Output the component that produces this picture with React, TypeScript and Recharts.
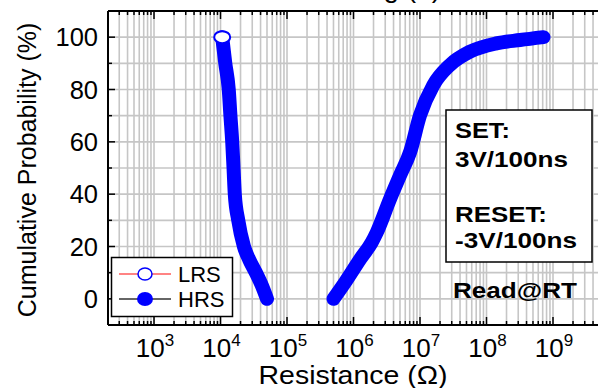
import React from 'react';
import { ComposedChart, Line, XAxis, YAxis, CartesianGrid } from 'recharts';

// LRS cumulative distribution (resistance in ohm, probability in %), ordered by resistance
const lrsRes = [1.06e4, 1.18e4, 1.33e4, 1.41e4, 1.5e4, 1.57e4, 1.64e4, 1.85e4, 2.25e4, 2.7e4, 3.4e4, 4.2e4, 5.0e4];
const lrsProb = [100, 90, 80, 70, 60, 50, 40, 30, 20, 15, 10, 5, 0];

// HRS cumulative distribution
const hrsRes = [5.0e5, 7.5e5, 1.26e6, 1.88e6, 2.24e6, 3.55e6, 5.0e6, 7.1e6, 1.0e7, 1.58e7, 2.8e7, 5.6e7, 1.4e8, 3.2e8, 7.2e8];
const hrsProb = [0, 6.4, 15.2, 21.6, 25.4, 38.2, 47.1, 56.1, 70.1, 81.6, 89.3, 94.4, 97.6, 98.9, 100];

const majorDecades = [3, 4, 5, 6, 7, 8, 9];
const gridDecades = [2, 3, 4, 5, 6, 7, 8, 9];
const decadeSteps = [1, 2, 3, 4, 5, 6, 7, 8, 9];
const yTicks = [-10, 0, 10, 20, 30, 40, 50, 60, 70, 80, 90, 100, 110];
const yLabels = [0, 20, 40, 60, 80, 100];

const xMin = 10 ** 2.308;
const xMax = 10 ** 9.767;

const lrsData = lrsRes.map((r, i) => ({ r, p: lrsProb[i] }));
const hrsData = hrsRes.map((r, i) => ({ r, p: hrsProb[i] }));
const xTicks = gridDecades
    .flatMap(d => decadeSteps.map(m => m * 10 ** d))
    .filter(v => v >= xMin && v <= xMax);

const FONT = '"Liberation Sans", Arial, sans-serif';
const BLUE = '#0000ff';

const isMajor = (v: number) => {
    const e = Math.round(Math.log10(v));
    return majorDecades.includes(e) && Math.abs(v - 10 ** e) < v * 1e-9;
};

const renderBottomTick = (props: any) => {
    const { x, y, payload, index } = props;
    const v = payload.value;
    const major = isMajor(v);
    const e = Math.round(Math.log10(v));
    return (
        <g key={`bt${index}`}>
            <line x1={x} x2={x} y1={y} y2={y - (major ? 8 : 4)} stroke="#000" strokeWidth={1.5} />
            {major && (
                <text x={x + 1} y={y + 32} textAnchor="middle" fontSize={26} fill="#000">
                    10<tspan fontSize={17} dy={-11}>{e}</tspan>
                </text>
            )}
        </g>
    );
};

const renderTopTick = (props: any) => {
    const { x, y, payload, index } = props;
    const major = isMajor(payload.value);
    return <line key={`tt${index}`} x1={x} x2={x} y1={y} y2={y + (major ? 8 : 4)} stroke="#000" strokeWidth={1.5} />;
};

const renderLeftTick = (props: any) => {
    const { x, y, payload, index } = props;
    const v = payload.value;
    const labelled = yLabels.includes(v);
    return (
        <g key={`lt${index}`}>
            <line x1={x} x2={x + (labelled ? 7 : 4)} y1={y} y2={y} stroke="#000" strokeWidth={1.5} />
            {labelled && (
                <text x={x - 10} y={y + 9} textAnchor="end" fontSize={25.5} fill="#000">
                    {v}
                </text>
            )}
        </g>
    );
};

const lrsDot = (props: any) => {
    const { cx, cy, index, payload } = props;
    if (payload.p !== 100) return <g key={`d${index}`} />;
    return <ellipse key={`d${index}`} cx={cx} cy={cy} rx={8} ry={6} fill="#fff" stroke={BLUE} strokeWidth={2} />;
};

export default function App() {
    return (
        <div style={{ position: 'absolute', left: 0, top: 0, width: 598, height: 388, overflow: 'hidden', background: '#fff', fontFamily: FONT }}>
            <ComposedChart width={620} height={388} margin={{ top: 10, right: 16, bottom: 0, left: 0 }}>
                <CartesianGrid stroke="#c6c6c6" strokeWidth={1.6} />
                <XAxis
                    dataKey="r"
                    type="number"
                    scale="log"
                    domain={[xMin, xMax]}
                    allowDataOverflow
                    ticks={xTicks}
                    interval={0}
                    height={63}
                    tickSize={0}
                    tickMargin={0}
                    tickLine={false}
                    tick={renderBottomTick}
                    axisLine={{ stroke: '#000', strokeWidth: 2 }}
                />
                <XAxis
                    xAxisId="top"
                    orientation="top"
                    dataKey="r"
                    type="number"
                    scale="log"
                    domain={[xMin, xMax]}
                    allowDataOverflow
                    ticks={xTicks}
                    interval={0}
                    height={1}
                    tickSize={0}
                    tickMargin={0}
                    tickLine={false}
                    tick={renderTopTick}
                    axisLine={{ stroke: '#000', strokeWidth: 2 }}
                />
                <YAxis
                    type="number"
                    domain={[-10, 110]}
                    allowDataOverflow
                    ticks={yTicks}
                    interval={0}
                    width={108}
                    tickSize={0}
                    tickMargin={0}
                    tickLine={false}
                    tick={renderLeftTick}
                    axisLine={{ stroke: '#000', strokeWidth: 2 }}
                />
                <Line
                    data={hrsData}
                    dataKey="p"
                    type="monotone"
                    stroke={BLUE}
                    strokeWidth={14}
                    strokeLinecap="round"
                    strokeLinejoin="round"
                    dot={false}
                    activeDot={false}
                    isAnimationActive={false}
                />
                <Line
                    data={lrsData}
                    dataKey="p"
                    type="monotone"
                    stroke={BLUE}
                    strokeWidth={14}
                    strokeLinecap="round"
                    strokeLinejoin="round"
                    dot={lrsDot}
                    activeDot={false}
                    isAnimationActive={false}
                />
            </ComposedChart>
            <svg width={598} height={388} style={{ position: 'absolute', left: 0, top: 0, pointerEvents: 'none' }}>
                <text x={441} y={-3} textAnchor="end" fontSize={28} fill="#000">Switching (a)</text>
                <text x={36} y={170} textAnchor="middle" fontSize={25} fill="#000" transform="rotate(-90 36 170)">
                    Cumulative Probability (%)
                </text>
                <text x={353} y={384} textAnchor="middle" fontSize={25} fill="#000" textLength={189} lengthAdjust="spacingAndGlyphs">
                    Resistance (Ω)
                </text>

                {/* legend */}
                <rect x={111.5} y={257.5} width={121} height={59} fill="#fff" stroke="#000" strokeWidth={1.5} />
                <line x1={119} x2={171} y1={274} y2={274} stroke="#ff5a5a" strokeWidth={1.5} />
                <ellipse cx={145} cy={274} rx={7} ry={6} fill="#fff" stroke={BLUE} strokeWidth={1.5} />
                <text x={178} y={282} fontSize={22} fill="#000">LRS</text>
                <line x1={119} x2={171} y1={299} y2={299} stroke="#333" strokeWidth={1.5} />
                <ellipse cx={145} cy={299} rx={8} ry={7} fill={BLUE} />
                <text x={178} y={307} fontSize={22} fill="#000">HRS</text>

                {/* condition box */}
                <rect x={446} y={110} width={146} height={152} fill="#fff" stroke="#000" strokeWidth={1.5} />
                <g fontSize={22} fontWeight="bold" fill="#000">
                    <text x={455} y={138} textLength={55} lengthAdjust="spacingAndGlyphs">SET:</text>
                    <text x={455} y={167} textLength={113} lengthAdjust="spacingAndGlyphs">3V/100ns</text>
                    <text x={455} y={222} textLength={92} lengthAdjust="spacingAndGlyphs">RESET:</text>
                    <text x={455} y={248} textLength={122} lengthAdjust="spacingAndGlyphs">-3V/100ns</text>
                    <text x={453} y={298} textLength={124} lengthAdjust="spacingAndGlyphs">Read@RT</text>
                </g>
            </svg>
        </div>
    );
}
